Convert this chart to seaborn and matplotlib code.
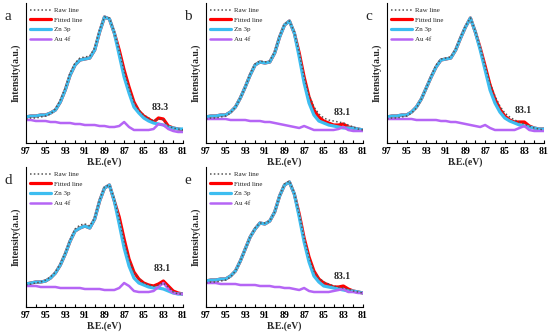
import numpy as np
import pandas as pd
import matplotlib
matplotlib.use("Agg")
import matplotlib.pyplot as plt
import seaborn as sns
from matplotlib.ticker import MultipleLocator

sns.set_theme(style="white")
plt.rcParams['font.family'] = ['Liberation Serif', 'DejaVu Serif']

# Binding energy grid (eV)
be = [97, 96.5, 96, 95.5, 95, 94.5, 94, 93.5, 93, 92.5, 92, 91.5, 91, 90.5, 90, 89.5,
      89, 88.5, 88, 87.5, 87, 86.5, 86, 85.5, 85, 84.5, 84, 83.5, 83, 82.5, 82, 81.5, 81]

panel_labels = ["a", "b", "c", "d", "e"]
peak_labels = ["83.3", "83.1", "83.1", "83.1", "83.1"]
peak_pos = [83.3, 83.1, 83.1, 83.1, 83.1]
peak_text_y = [33, 28, 30, 36, 28]

# Panel a
zn_a = [28, 29, 29, 30, 30, 32, 35, 43, 55, 70, 80, 85, 86, 87, 95, 113,
        128, 126, 112, 90, 68, 52, 38, 32, 27, 24, 22, 21, 20, 18, 17, 16, 16]
au_a = [25, 25, 24, 24, 24, 23, 23, 22, 22, 22, 21, 21, 20, 20, 20, 19,
        19, 18, 18, 19, 23, 18, 15, 15, 15, 15, 16, 21, 20, 16, 14, 13, 13]
fit_a = [28, 29, 29, 30, 30, 32, 35, 43, 55, 70, 80, 85, 86, 87, 95, 113,
         128, 126, 112, 95, 75, 58, 43, 34, 29, 26, 23, 27, 26, 19, 17, 16, 15]
raw_a = [26, 27, 27, 28, 29, 31, 36, 45, 57, 72, 82, 87, 88, 89, 97, 115,
         128, 127, 113, 94, 74, 57, 43, 35, 30, 27, 24, 26, 25, 19, 17, 16, 15]

# Panel b
zn_b = [28, 29, 29, 30, 30, 33, 38, 47, 58, 70, 80, 83, 82, 83, 92, 108,
        120, 124, 112, 88, 62, 42, 30, 24, 22, 20, 19, 18, 17, 17, 17, 16, 15]
au_b = [26, 26, 26, 26, 26, 25, 25, 25, 25, 24, 24, 24, 23, 23, 22, 21,
        20, 19, 18, 17, 19, 17, 15, 15, 15, 15, 15, 16, 18, 15, 14, 14, 14]
fit_b = [28, 29, 29, 30, 30, 33, 38, 47, 58, 70, 80, 83, 82, 83, 92, 108,
         120, 124, 112, 92, 68, 48, 35, 28, 24, 22, 20, 20, 21, 18, 17, 16, 15]
raw_b = [26, 27, 27, 28, 29, 32, 38, 47, 58, 71, 81, 84, 83, 84, 93, 109,
         121, 124, 113, 92, 68, 50, 38, 31, 27, 25, 24, 23, 22, 20, 18, 16, 15]

# Panel c
zn_c = [28, 29, 29, 30, 30, 33, 38, 46, 57, 68, 78, 85, 86, 87, 95, 107,
        118, 127, 113, 95, 75, 55, 42, 33, 27, 24, 22, 20, 19, 18, 17, 16, 16]
au_c = [26, 26, 26, 26, 26, 26, 25, 25, 25, 25, 25, 24, 24, 23, 23, 22,
        21, 20, 19, 18, 20, 17, 15, 15, 15, 15, 15, 17, 19, 15, 14, 14, 14]
fit_c = [28, 29, 29, 30, 30, 33, 38, 46, 57, 68, 78, 85, 86, 87, 95, 107,
         118, 127, 113, 97, 79, 60, 46, 36, 29, 25, 23, 23, 23, 19, 17, 16, 16]
raw_c = [26, 27, 27, 28, 29, 32, 37, 46, 57, 69, 80, 86, 87, 88, 96, 108,
         119, 127, 114, 97, 79, 62, 49, 39, 32, 28, 25, 23, 21, 19, 17, 16, 15]

# Panel d
zn_d = [25, 26, 27, 27, 28, 31, 36, 44, 55, 68, 78, 81, 83, 81, 90, 108,
        121, 124, 108, 85, 61, 43, 31, 26, 24, 22, 21, 21, 20, 18, 16, 15, 15]
au_d = [23, 23, 23, 22, 22, 22, 22, 21, 21, 21, 21, 21, 20, 20, 20, 20,
        19, 19, 19, 21, 26, 23, 18, 17, 17, 17, 18, 22, 26, 20, 16, 15, 15]
fit_d = [25, 26, 27, 27, 28, 31, 36, 44, 55, 68, 78, 81, 83, 81, 90, 108,
         121, 124, 108, 92, 70, 50, 37, 30, 26, 24, 23, 25, 28, 23, 18, 16, 15]
raw_d = [24, 25, 26, 27, 29, 32, 37, 45, 56, 69, 80, 84, 85, 83, 91, 109,
         122, 124, 110, 90, 68, 50, 37, 30, 26, 24, 23, 24, 26, 22, 17, 15, 15]

# Panel e
zn_e = [28, 29, 29, 30, 30, 33, 38, 48, 60, 72, 80, 86, 85, 88, 97, 113,
        124, 127, 115, 92, 67, 47, 33, 27, 23, 22, 21, 20, 19, 18, 18, 17, 16]
au_e = [26, 26, 26, 25, 25, 25, 25, 24, 24, 24, 24, 23, 23, 23, 22, 22,
        21, 21, 20, 19, 21, 18, 17, 17, 17, 17, 18, 19, 20, 17, 17, 16, 16]
fit_e = [28, 29, 29, 30, 30, 33, 38, 48, 60, 72, 80, 86, 85, 88, 97, 113,
         124, 127, 115, 95, 71, 52, 38, 30, 26, 24, 22, 22, 23, 20, 18, 17, 16]
raw_e = [26, 27, 27, 28, 29, 32, 38, 48, 60, 72, 81, 86, 86, 88, 97, 113,
         125, 128, 116, 95, 71, 52, 38, 31, 27, 25, 23, 22, 21, 20, 18, 17, 16]

panels = [
    (zn_a, au_a, fit_a, raw_a),
    (zn_b, au_b, fit_b, raw_b),
    (zn_c, au_c, fit_c, raw_c),
    (zn_d, au_d, fit_d, raw_d),
    (zn_e, au_e, fit_e, raw_e),
]

W, H = 550, 332
fig = plt.figure(figsize=(5.5, 3.32), dpi=100)
fig.patch.set_facecolor("white")

# axes placement in pixels: (left, bottom_px_from_top)
pos = [(26, 143), (206, 143), (387, 143), (26, 307), (206, 307)]
aw, ah = 157, 140

c_raw = "#555555"
c_fit = "#ff0000"
c_zn = "#3dbdf0"
c_au = "#b565f5"

for i, (zn, au, fit, raw) in enumerate(panels):
    l, b = pos[i]
    ax = fig.add_axes([l / W, (H - b) / H, aw / W, ah / H])
    sns.lineplot(x=be, y=fit, ax=ax, color=c_fit, lw=2.3, sort=False, label="Fitted line")
    sns.lineplot(x=be, y=zn, ax=ax, color=c_zn, lw=2.3, sort=False, label="Zn 3p")
    sns.lineplot(x=be, y=au, ax=ax, color=c_au, lw=1.8, sort=False, label="Au 4f")
    sns.lineplot(x=be, y=raw, ax=ax, color=c_raw, lw=1.1, sort=False, label="Raw line")
    ax.lines[-1].set_linestyle((0, (1, 1.5)))
    for ln in ax.lines:
        ln.set_solid_joinstyle("round")
    ax.set_xlim(97, 81)
    ax.set_ylim(2, 142)
    ax.xaxis.set_minor_locator(MultipleLocator(1))
    ax.set_xticks([97, 95, 93, 91, 89, 87, 85, 83, 81])
    ax.set_yticks([])
    ax.tick_params(axis="x", which="both", direction="in", length=2, width=0.8,
                   bottom=True, labelsize=7, pad=3, colors="black")
    for t in ax.get_xticklabels():
        t.set_fontweight("bold")
    for s in ["top", "right"]:
        ax.spines[s].set_visible(False)
    for s in ["left", "bottom"]:
        ax.spines[s].set_color("black")
        ax.spines[s].set_linewidth(0.8)
    ax.set_xlabel("B.E.(eV)", fontsize=7, fontweight="bold", labelpad=1)
    ax.set_ylabel("Intensity(a.u.)", fontsize=7, fontweight="bold", labelpad=4)
    ax.text(peak_pos[i], peak_text_y[i], peak_labels[i], ha="center", va="bottom",
            fontsize=7, fontweight="bold")
    handles, labels = ax.get_legend_handles_labels()
    order = [labels.index(n) for n in ["Raw line", "Fitted line", "Zn 3p", "Au 4f"]]
    ax.legend([handles[k] for k in order], [labels[k] for k in order],
              loc="upper left", bbox_to_anchor=(0.0, 1.0), frameon=False,
              fontsize=5, handlelength=3.0, handletextpad=0.5, labelspacing=0.55,
              borderaxespad=0.2)
    fig.text((l - 18) / W, 1 - (b - 126) / H, panel_labels[i], fontsize=11,
             ha="center", va="center")

fig.savefig("out.png", dpi=100, facecolor="white")
